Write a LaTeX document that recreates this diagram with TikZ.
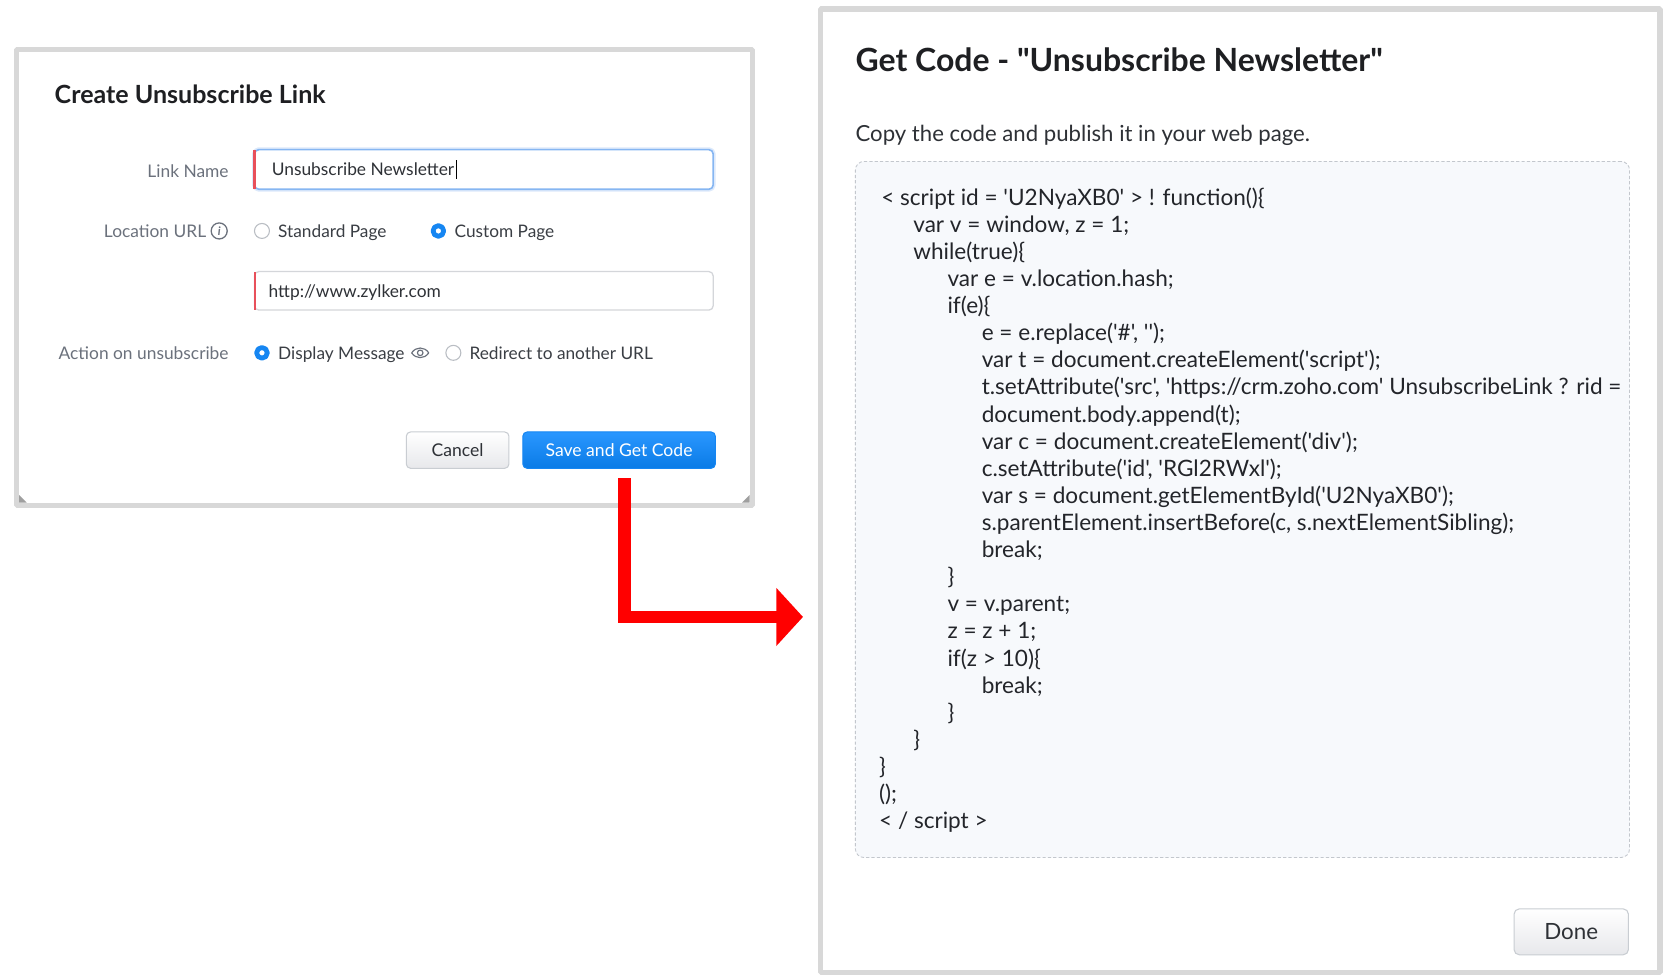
\documentclass[tikz,border=0pt]{standalone}
\usepackage{fontspec}
\setmainfont{Lato}[Ligatures=TeXOff]
\newfontfamily\codefont{Lato}[Ligatures=TeXOff]
\usetikzlibrary{arrows.meta}
\definecolor{panelgray}{HTML}{D8D8D8}
\definecolor{labelgray}{HTML}{6B717C}
\definecolor{fieldtext}{HTML}{2E3136}
\definecolor{titletext}{HTML}{1E1F22}
\definecolor{radiogray}{HTML}{B9BDC3}
\definecolor{btnblue}{HTML}{1686F2}
\definecolor{btnbluetop}{HTML}{2A97FF}
\definecolor{btnbluebot}{HTML}{0A7BE6}
\definecolor{btnborder}{HTML}{C9CDD2}
\definecolor{btngraybot}{HTML}{E7E8EB}
\definecolor{focusblue}{HTML}{86B6F2}
\definecolor{focusglow}{HTML}{DCE9FB}
\definecolor{fieldborder}{HTML}{D4D6DA}
\definecolor{alertred}{HTML}{E8505B}
\definecolor{codefill}{HTML}{F7F9FC}
\definecolor{codeborder}{HTML}{C3C7CD}
\definecolor{codetext}{HTML}{23252A}
\definecolor{arrowred}{HTML}{FF0000}
\begin{document}
\begin{tikzpicture}[>=latex,line join=bevel,
  panel/.style={draw=panelgray,line width=5bp,fill=white,inner sep=0pt},
  formtitle/.style={inner sep=0pt,anchor=base west,text=titletext,font=\bfseries\fontsize{23.5}{27}\selectfont},
  bigtitle/.style={inner sep=0pt,anchor=base west,text=titletext,font=\bfseries\fontsize{30}{34}\selectfont},
  hinttext/.style={inner sep=0pt,anchor=base west,text=fieldtext,font=\fontsize{20.8}{24}\selectfont},
  fieldlabel/.style={inner sep=0pt,anchor=base east,text=labelgray,font=\fontsize{16.3}{18}\selectfont},
  fieldvalue/.style={inner sep=0pt,anchor=base west,text=fieldtext,font=\fontsize{16.3}{18}\selectfont},
  optiontext/.style={inner sep=0pt,anchor=base west,text=fieldtext!80!labelgray,font=\fontsize{16.2}{18}\selectfont},
  focusbox/.style={draw=focusblue,line width=1.5bp,rounded corners=4bp,fill=white,inner sep=0pt,
    preaction={draw=focusglow,line width=4.5bp}},
  fieldbox/.style={draw=fieldborder,line width=1.2bp,rounded corners=4bp,fill=white,inner sep=0pt},
  radiooff/.style={circle,draw=radiogray,line width=1bp,fill=white,minimum size=14bp,inner sep=0pt},
  radioon/.style={circle,draw=btnblue,line width=4.5bp,fill=white,minimum size=10bp,inner sep=0pt},
  infoicon/.style={circle,draw=labelgray,line width=1.2bp,minimum size=15bp,inner sep=0pt,text=labelgray,
    font=\itshape\bfseries\fontsize{11}{11}\selectfont},
  graybtn/.style={draw=btnborder,line width=1bp,rounded corners=4bp,top color=white,bottom color=btngraybot,
    text=fieldtext,inner sep=0pt,font=\fontsize{16.5}{18}\selectfont},
  bluebtn/.style={draw=btnblue,line width=1bp,rounded corners=4bp,top color=btnbluetop,bottom color=btnbluebot,
    text=white,inner sep=0pt,font=\fontsize{16.5}{18}\selectfont},
  codebox/.style={draw=codeborder,line width=0.8bp,dash pattern=on 3bp off 2bp,rounded corners=8bp,fill=codefill,inner sep=0pt},
  codeline/.style={inner sep=0pt,anchor=base west,text=codetext,font=\codefont\fontsize{21.2}{24}\selectfont},
  redarrow/.style={arrowred,line width=12bp,line join=miter,-{Triangle[length=25bp,width=53bp]}},
]
\useasboundingbox [fill=white] (0bp,0bp) rectangle (1560bp,913bp);
%%
\node (node_create_panel) at (359.5bp,653.5bp) [panel,minimum width=688bp,minimum height=426bp] {};
\node (node_code_panel) at (1160bp,454bp) [panel,minimum width=785bp,minimum height=901bp] {};
\fill [gray!75] (18bp,443bp) -- (25bp,443bp) -- (18bp,450bp) -- cycle;
\fill [gray!75] (701bp,443bp) -- (694bp,443bp) -- (701bp,450bp) -- cycle;
%
\node (node_create_title) at (51bp,816bp) [formtitle] {Create Unsubscribe Link};
  \node (node_linkname) at (214bp,747bp) [fieldlabel] {Link Name};
  \node (node_linkbox) at (452.5bp,754.5bp) [focusbox,minimum width=429bp,minimum height=37bp] {};
  \draw [alertred,line width=2.5bp] ([xshift=1bp,yshift=-1bp]node_linkbox.north west) -- ([xshift=1bp,yshift=1bp]node_linkbox.south west);
  \node (node_linkvalue) at (254bp,749bp) [fieldvalue] {Unsubscribe Newsletter};
  \draw [black,line width=1bp] ([xshift=1.5bp,yshift=-3bp]node_linkvalue.base east) -- ([xshift=1.5bp,yshift=14bp]node_linkvalue.base east);
%
  \node (node_locurl) at (193bp,691bp) [fieldlabel] {Location URL};
  \node (node_info) at (205bp,697bp) [infoicon] {i};
  \node (node_radio_std) at (245bp,697bp) [radiooff] {};
  \node (node_std) at (260bp,691bp) [optiontext] {Standard Page};
  \node (node_radio_custom) at (410bp,697bp) [radioon] {};
  \node (node_custom) at (425bp,691bp) [optiontext] {Custom Page};
%
  \node (node_urlbox) at (452.5bp,641bp) [fieldbox,minimum width=429bp,minimum height=36bp] {};
  \draw [alertred,line width=2.5bp] ([xshift=1bp,yshift=-1bp]node_urlbox.north west) -- ([xshift=1bp,yshift=1bp]node_urlbox.south west);
  \node (node_urlvalue) at (251bp,635bp) [fieldvalue] {http://www.zylker.com};
%
  \node (node_action) at (214bp,577bp) [fieldlabel] {Action on unsubscribe};
  \node (node_radio_msg) at (245bp,583bp) [radioon] {};
  \node (node_msg) at (260bp,577bp) [optiontext] {Display Message};
  \draw [labelgray,line width=1.1bp] (385bp,583bp) .. controls (389bp,589bp) and (397bp,589bp) .. (401bp,583bp) .. controls (397bp,577bp) and (389bp,577bp) .. (385bp,583bp);
  \draw [labelgray,line width=1.1bp] (393bp,583bp) circle (2.6bp);
  \node (node_radio_redirect) at (424bp,583bp) [radiooff] {};
  \node (node_redirect) at (439bp,577bp) [optiontext] {Redirect to another URL};
%
  \node (node_cancel) at (428bp,492bp) [graybtn,minimum width=96bp,minimum height=34bp] {Cancel};
  \node (node_save) at (579bp,492bp) [bluebtn,minimum width=180bp,minimum height=34bp] {Save and Get Code};
%%
\coordinate (node_tip) at (751bp,336bp);
  \draw [redarrow] ([xshift=5bp,yshift=-9bp]node_save.south) |- (node_tip);
%%
\node (node_code_title) at (800bp,846bp) [bigtitle] {Get Code - "Unsubscribe Newsletter"};
  \node (node_hint) at (800bp,781bp) [hinttext] {Copy the code and publish it in your web page.};
  \node (node_codebox) at (1162bp,436.5bp) [codebox,minimum width=724bp,minimum height=651bp] {};
%
  \node (code_1) at (824bp,721.0bp) [codeline] {< script id = 'U2NyaXB0' > ! function()\{};
  \node (code_2) at (854bp,695.7bp) [codeline] {var v = window, z = 1;};
  \node (code_3) at (854bp,670.3bp) [codeline] {while(true)\{};
  \node (code_4) at (886bp,645.0bp) [codeline] {var e = v.location.hash;};
  \node (code_5) at (886bp,619.6bp) [codeline] {if(e)\{};
  \node (code_6) at (918bp,594.3bp) [codeline] {e = e.replace('\#', '');};
  \node (code_7) at (918bp,568.9bp) [codeline] {var t = document.createElement('script');};
  \node (code_8) at (918bp,543.6bp) [codeline] {t.setAttribute('src', 'https://crm.zoho.com' UnsubscribeLink ? rid =};
  \node (code_9) at (918bp,518.2bp) [codeline] {document.body.append(t);};
  \node (code_10) at (918bp,492.9bp) [codeline] {var c = document.createElement('div');};
  \node (code_11) at (918bp,467.5bp) [codeline] {c.setAttribute('id', 'RGl2RWxl');};
  \node (code_12) at (918bp,442.2bp) [codeline] {var s = document.getElementById('U2NyaXB0');};
  \node (code_13) at (918bp,416.8bp) [codeline] {s.parentElement.insertBefore(c, s.nextElementSibling);};
  \node (code_14) at (918bp,391.5bp) [codeline] {break;};
  \node (code_15) at (886bp,366.1bp) [codeline] {\}};
  \node (code_16) at (886bp,340.8bp) [codeline] {v = v.parent;};
  \node (code_17) at (886bp,315.4bp) [codeline] {z = z + 1;};
  \node (code_18) at (886bp,290.1bp) [codeline] {if(z > 10)\{};
  \node (code_19) at (918bp,264.7bp) [codeline] {break;};
  \node (code_20) at (886bp,239.4bp) [codeline] {\}};
  \node (code_21) at (854bp,214.0bp) [codeline] {\}};
  \node (code_22) at (822bp,188.7bp) [codeline] {\}};
  \node (code_23) at (822bp,163.3bp) [codeline] {();};
  \node (code_24) at (822bp,138.0bp) [codeline] {< / script >};
%
  \node (node_done) at (1469.5bp,41.5bp) [graybtn,rounded corners=5bp,minimum width=107bp,minimum height=43bp,font=\fontsize{21}{24}\selectfont] {Done};
%
\end{tikzpicture}
\end{document}
